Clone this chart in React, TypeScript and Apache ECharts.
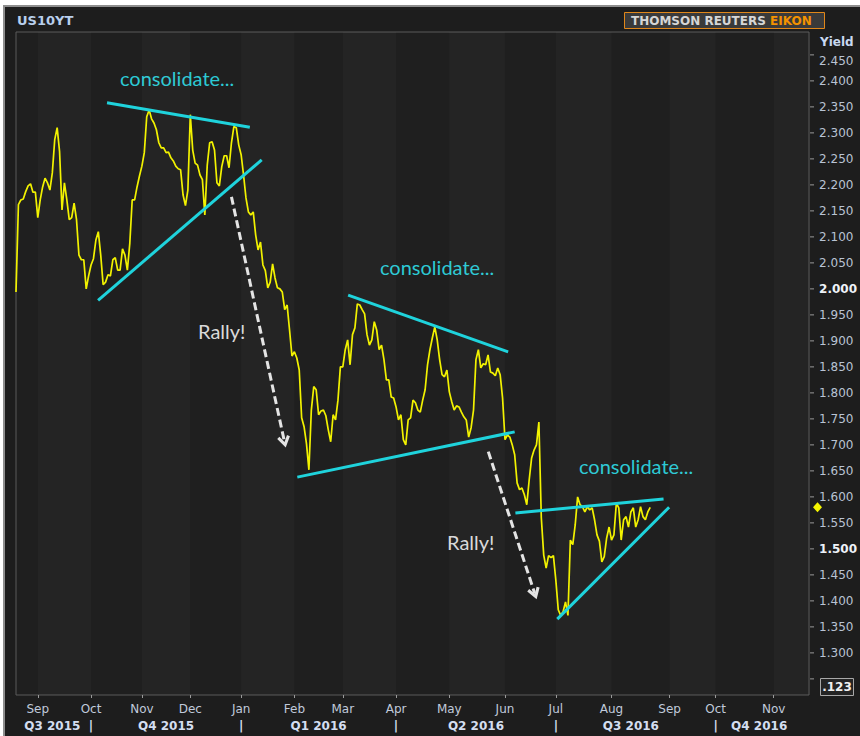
import React, { useEffect, useRef } from 'react';
import * as echarts from 'echarts';

// Daily US 10Y yield, one value per trading day starting late Aug 2015
const yields = [
  1.994, 2.162, 2.171, 2.173, 2.187, 2.198, 2.202, 2.186, 2.186, 2.137,
  2.171, 2.196, 2.213, 2.204, 2.190, 2.223, 2.287, 2.310, 2.264, 2.152,
  2.204, 2.171, 2.133, 2.137, 2.165, 2.133, 2.065, 2.056, 2.056, 2.000,
  2.025, 2.046, 2.058, 2.094, 2.110, 2.065, 2.008, 2.013, 2.027, 2.025,
  2.056, 2.060, 2.036, 2.036, 2.077, 2.065, 2.036, 2.087, 2.171, 2.171,
  2.196, 2.217, 2.236, 2.262, 2.331, 2.344, 2.327, 2.319, 2.306, 2.281,
  2.271, 2.271, 2.262, 2.263, 2.252, 2.246, 2.236, 2.231, 2.229, 2.181,
  2.160, 2.190, 2.335, 2.267, 2.242, 2.238, 2.219, 2.210, 2.142, 2.238,
  2.281, 2.283, 2.267, 2.204, 2.198, 2.235, 2.256, 2.256, 2.233, 2.281,
  2.312, 2.310, 2.277, 2.258, 2.219, 2.175, 2.148, 2.142, 2.148, 2.104,
  2.075, 2.090, 2.046, 2.035, 2.002, 2.013, 2.048, 2.021, 2.002, 2.000,
  1.994, 1.960, 1.969, 1.921, 1.871, 1.879, 1.867, 1.844, 1.752, 1.735,
  1.702, 1.652, 1.767, 1.812, 1.806, 1.758, 1.765, 1.767, 1.756, 1.729,
  1.706, 1.758, 1.748, 1.786, 1.850, 1.850, 1.883, 1.902, 1.854, 1.912,
  1.925, 1.971, 1.969, 1.960, 1.952, 1.912, 1.892, 1.902, 1.937, 1.921,
  1.883, 1.892, 1.864, 1.825, 1.825, 1.792, 1.790, 1.773, 1.748, 1.758,
  1.710, 1.700, 1.748, 1.752, 1.786, 1.781, 1.767, 1.763, 1.786, 1.806,
  1.854, 1.883, 1.906, 1.927, 1.902, 1.864, 1.835, 1.831, 1.844, 1.802,
  1.783, 1.767, 1.775, 1.773, 1.763, 1.754, 1.748, 1.715, 1.733, 1.767,
  1.864, 1.883, 1.848, 1.856, 1.854, 1.873, 1.840, 1.838, 1.833, 1.848,
  1.835, 1.790, 1.710, 1.719, 1.715, 1.700, 1.681, 1.627, 1.614, 1.617,
  1.604, 1.585, 1.633, 1.675, 1.690, 1.700, 1.744, 1.560, 1.488, 1.463,
  1.487, 1.483, 1.487, 1.440, 1.383, 1.372, 1.379, 1.398, 1.372, 1.517,
  1.508, 1.546, 1.600, 1.585, 1.581, 1.571, 1.581, 1.575, 1.579, 1.556,
  1.527, 1.515, 1.475, 1.485, 1.521, 1.542, 1.517, 1.527, 1.588, 1.579,
  1.517, 1.556, 1.562, 1.542, 1.571, 1.579, 1.542, 1.556, 1.581, 1.562,
  1.556, 1.571, 1.580,
];

// x axis (trading-day index)
const X_MAX = 327.6;
const monthTicks = [9, 31, 52, 72, 93, 115, 135, 157, 179, 202, 223, 246, 270, 289, 313];
const monthLabels = ['Sep', 'Oct', 'Nov', 'Dec', 'Jan', 'Feb', 'Mar', 'Apr', 'May', 'Jun', 'Jul', 'Aug', 'Sep', 'Oct', 'Nov'];
const quarterCenters = [15, 62, 125, 190, 254, 307];
const quarterLabels = ['Q3 2015', 'Q4 2015', 'Q1 2016', 'Q2 2016', 'Q3 2016', 'Q4 2016'];
const quarterBreaks = [31, 93, 157, 223, 289];

// y axis
const Y_MIN = 1.219;
const Y_MAX = 2.494;
const yLabelValues = [2.45, 2.4, 2.35, 2.3, 2.25, 2.2, 2.15, 2.1, 2.05, 2.0, 1.95, 1.9, 1.85, 1.8, 1.75, 1.7, 1.65, 1.6, 1.55, 1.5, 1.45, 1.4, 1.35, 1.3];
const yTickValues = [2.45, 2.4, 2.35, 2.3, 2.25, 2.2, 2.15, 2.1, 2.05, 2.0, 1.95, 1.9, 1.85, 1.8, 1.75, 1.7, 1.65, 1.6, 1.55, 1.5, 1.45, 1.4, 1.35, 1.3, 1.25];
const boldYValues = [2.0, 1.5];
const topYValue = 2.45;

// annotations in data coordinates [index, yield]
const trendLines = [
  [[37.6, 2.358], [96.6, 2.311]],
  [[33.9, 1.978], [101.5, 2.248]],
  [[137.2, 1.988], [203.3, 1.879]],
  [[116.2, 1.638], [206.0, 1.725]],
  [[206.3, 1.569], [267.5, 1.596]],
  [[223.6, 1.365], [269.8, 1.580]],
];
const rallyArrows = [
  [[89.0, 2.177], [110.9, 1.706]],
  [[195.1, 1.687], [214.3, 1.414]],
];

const CHEVRON = 'path://M5,0 L10,9 L8,10.5 L5,5 L2,10.5 L0,9 Z';

export default function App() {
  const ref = useRef<HTMLDivElement>(null);

  useEffect(() => {
    if (!ref.current) return;
    const chart = echarts.init(ref.current, null, { renderer: 'svg' });

    const near = (a: number, b: number) => Math.abs(a - b) < 0.001;

    const bands: any[] = [];
    for (let k = 0; k < monthTicks.length; k += 2) {
      bands.push([{ xAxis: monthTicks[k] }, { xAxis: k + 1 < monthTicks.length ? monthTicks[k + 1] : X_MAX }]);
    }

    const markLines: any[] = [];
    trendLines.forEach((l) => {
      markLines.push([
        { coord: l[0], symbol: 'none', lineStyle: { color: '#1fd3dc', width: 3, type: 'solid' } },
        { coord: l[1], symbol: 'none' },
      ]);
    });
    rallyArrows.forEach((l) => {
      markLines.push([
        { coord: l[0], symbol: 'none', lineStyle: { color: '#e4e4e4', width: 3, type: [8, 4] } },
        { coord: l[1], symbol: CHEVRON, symbolSize: [13, 12] },
      ]);
    });

    const labelFont = { fontFamily: 'DejaVu Sans', fontSize: 12 };

    const baseGraphics: any[] = [
      {
        type: 'rect', z: 1, silent: true,
        shape: { x: 17, y: 33, width: 4, height: 661 },
        style: { fill: '#1f1f1f' },
      },
      {
        type: 'text', x: 17, y: 20,
        style: { text: 'US10YT', fill: '#b8cfec', fontFamily: 'DejaVu Sans', fontSize: 13, fontWeight: 'bold', verticalAlign: 'middle' },
      },
      {
        type: 'rect', shape: { x: 624.5, y: 12.5, width: 200, height: 16 },
        style: { fill: '#3a3a3a', stroke: '#e0871a', lineWidth: 1 },
      },
      {
        type: 'text', x: 631, y: 20.5,
        style: {
          text: '{a|THOMSON REUTERS }{b|EIKON}', verticalAlign: 'middle',
          rich: {
            a: { fill: '#d6d6d6', fontFamily: 'DejaVu Sans', fontSize: 12, fontWeight: 'bold' },
            b: { fill: '#f39200', fontFamily: 'DejaVu Sans', fontSize: 12, fontWeight: 'bold' },
          },
        },
      },
      {
        type: 'text', x: 820, y: 42,
        style: { text: 'Yield', fill: '#c8d8f0', fontFamily: 'DejaVu Sans', fontSize: 12, fontWeight: 'bold', verticalAlign: 'middle' },
      },
      {
        type: 'rect', shape: { x: 820.5, y: 678.5, width: 33, height: 17 },
        style: { fill: '#242424', stroke: '#a8a8a8', lineWidth: 1 },
      },
      {
        type: 'text', x: 837, y: 687,
        style: { text: '.123', fill: '#f0f0f0', fontFamily: 'DejaVu Sans', fontSize: 12, fontWeight: 'bold', align: 'center', verticalAlign: 'middle' },
      },
      {
        type: 'text', x: 120, y: 78,
        style: { text: 'consolidate...', fill: '#2cc9d4', fontFamily: 'Lato', fontSize: 20, verticalAlign: 'middle' },
      },
      {
        type: 'text', x: 380, y: 267,
        style: { text: 'consolidate...', fill: '#2cc9d4', fontFamily: 'Lato', fontSize: 20, verticalAlign: 'middle' },
      },
      {
        type: 'text', x: 579, y: 466,
        style: { text: 'consolidate...', fill: '#2cc9d4', fontFamily: 'Lato', fontSize: 20, verticalAlign: 'middle' },
      },
      {
        type: 'text', x: 198, y: 331,
        style: { text: 'Rally!', fill: '#d9d9d9', fontFamily: 'Lato', fontSize: 20, verticalAlign: 'middle' },
      },
      {
        type: 'text', x: 447, y: 542,
        style: { text: 'Rally!', fill: '#d9d9d9', fontFamily: 'Lato', fontSize: 20, verticalAlign: 'middle' },
      },
    ];

    const tickRich = { width: 4, height: 1, backgroundColor: '#9a9a9a' };
    const gapRich = { width: 5, height: 1 };

    const option: any = {
      animation: false,
      backgroundColor: 'transparent',
      grid: {
        left: 16, top: 32, width: 796, height: 663,
        show: true, borderColor: '#5a5a5a', borderWidth: 1, backgroundColor: '#1f1f1f',
      },
      xAxis: [
        {
          type: 'value', min: 0, max: X_MAX, position: 'bottom',
          axisLine: { show: false, onZero: false },
          splitLine: { show: false },
          axisTick: { show: true, customValues: monthTicks, length: 3, lineStyle: { color: '#9a9a9a' } },
          axisLabel: {
            customValues: monthTicks, margin: 8, color: '#c0cadb', ...labelFont,
            formatter: (v: number) => {
              const k = monthTicks.findIndex((m) => near(m, v));
              return k >= 0 ? monthLabels[k] : '';
            },
          },
        },
        {
          type: 'value', min: 0, max: X_MAX, position: 'bottom', offset: 17,
          axisLine: { show: false, onZero: false },
          splitLine: { show: false },
          axisTick: { show: false },
          axisLabel: {
            customValues: [...quarterCenters, ...quarterBreaks].sort((a, b) => a - b),
            margin: 8, color: '#d4def0', fontWeight: 'bold', ...labelFont,
            formatter: (v: number) => {
              if (quarterBreaks.some((b) => near(b, v))) return '|';
              const k = quarterCenters.findIndex((c) => near(c, v));
              return k >= 0 ? quarterLabels[k] : '';
            },
          },
        },
      ],
      yAxis: {
        type: 'value', position: 'right', min: Y_MIN, max: Y_MAX,
        axisLine: { show: false, onZero: false },
        splitLine: { show: false },
        axisTick: { show: false },
        axisLabel: {
          customValues: yTickValues, margin: 1, color: '#b9c3d3', ...labelFont,
          formatter: (v: number) => {
            const tick = '{k|}{g|}';
            if (!yLabelValues.some((l) => near(l, v))) return tick;
            const s = v.toFixed(3);
            if (near(v, topYValue)) return tick + '{t|' + s + '}';
            return tick + (boldYValues.some((b) => near(b, v)) ? '{b|' + s + '}' : '{n|' + s + '}');
          },
          rich: {
            k: tickRich,
            g: gapRich,
            n: { color: '#b9c3d3', fontFamily: 'DejaVu Sans', fontSize: 12 },
            b: { fontWeight: 'bold', color: '#eef2f8', fontFamily: 'DejaVu Sans', fontSize: 12 },
            t: { color: '#b9c3d3', fontFamily: 'DejaVu Sans', fontSize: 12, padding: [12, 0, 0, 0] },
          },
        },
      },
      series: [
        {
          type: 'line',
          data: yields.map((v, i) => [i, v]),
          showSymbol: false,
          symbol: 'none',
          lineStyle: { color: '#f2f200', width: 1.7 },
          z: 3,
          markArea: {
            silent: true,
            itemStyle: { color: 'rgba(255,255,255,0.025)' },
            data: bands,
          },
          markLine: {
            silent: true,
            symbol: ['none', 'none'],
            label: { show: false },
            emphasis: { disabled: true },
            data: markLines,
          },
        },
      ],
      graphic: { elements: baseGraphics },
    };

    chart.setOption(option);

    const last = yields[yields.length - 1];
    const py = chart.convertToPixel({ yAxisIndex: 0 }, last) as number;
    chart.setOption({
      graphic: {
        elements: [
          ...baseGraphics,
          {
            type: 'polygon',
            shape: { points: [[817.5, py - 5], [822, py], [817.5, py + 5], [813, py]] },
            style: { fill: '#f5f500' },
          },
        ],
      },
    });

    return () => chart.dispose();
  }, []);

  return (
    <div style={{ position: 'fixed', left: 0, top: 0, width: 860, height: 736, background: '#ffffff' }}>
      <div
        style={{
          position: 'absolute', left: 3, top: 5, width: 857, height: 731, boxSizing: 'border-box',
          background: '#1d1d1d', borderLeft: '2px solid #8e8e8e', borderTop: '2px solid #8e8e8e',
        }}
      />
      <div ref={ref} style={{ position: 'absolute', left: 0, top: 0, width: 860, height: 736 }} />
    </div>
  );
}
